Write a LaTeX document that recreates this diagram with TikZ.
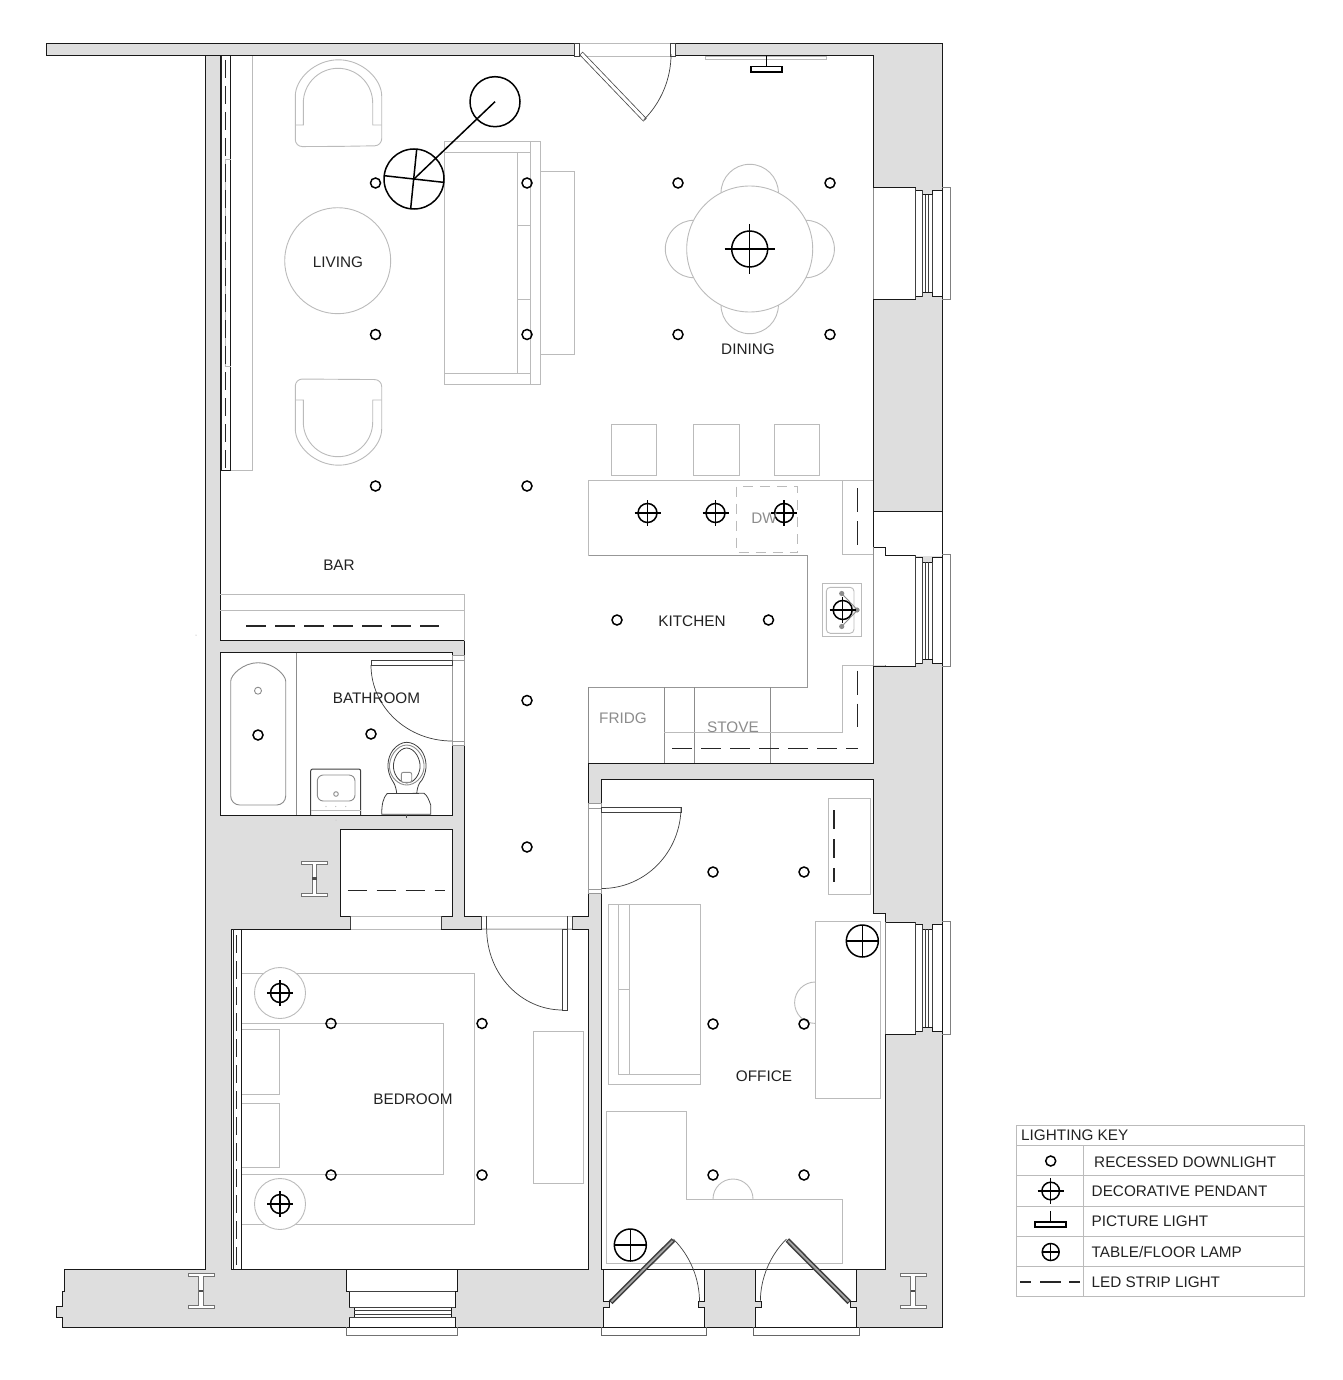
\documentclass[tikz,border=0pt]{standalone}
\usepackage{fontspec}
\setmainfont{Liberation Sans}
\definecolor{wallgray}{HTML}{DEDEDE}
\definecolor{fur}{HTML}{BBBBBB}
\definecolor{furd}{HTML}{8C8C8C}
\definecolor{ink}{HTML}{222222}
\tikzset{
  wall/.style={draw=black!90,line width=1pt,line join=miter},
  thinwall/.style={draw=black!75,line width=.7pt},
  furn/.style={draw=fur,line width=.9pt},
  furnd/.style={draw=furd,line width=.9pt},
  fixt/.style={draw=black!75,line width=.8pt},
  lit/.style={draw=black,line width=1.5pt},
  ledstrip/.style={draw=black!85,line width=1.3pt,dash pattern=on 19.6pt off 9.4pt},
  roomlabel/.style={font=\fontsize{15.3}{15.3}\selectfont,text=ink,inner sep=0pt},
  greylabel/.style={font=\fontsize{15.3}{15.3}\selectfont,text=black!45,inner sep=0pt},
  keylabel/.style={font=\fontsize{15.3}{15.3}\selectfont,text=ink,inner sep=0pt,anchor=west},
}
\newcommand{\dlight}[2]{\draw[lit] (#1,#2) circle[radius=5];}
\newcommand{\pendnt}[4]{\draw[lit] (#1,#2) circle[radius=#3];
  \draw[lit,line width=1.3pt] (#1-#3-#4,#2) -- (#1+#3+#4,#2) (#1,#2-#3-#4) -- (#1,#2+#3+#4);}
\newcommand{\lamplt}[3]{\draw[lit] (#1,#2) circle[radius=#3];
  \draw[lit,line width=1.3pt] (#1-#3,#2) -- (#1+#3,#2) (#1,#2-#3) -- (#1,#2+#3);}
\newcommand{\winright}[3]{%
  \fill[white] (#1,#2) -- (915,#2) -- (915,#2+2.5) -- (922.7,#2+2.5) -- (922.7,#2+7) -- (932,#2+7) -- (932,#2+2.5) -- (942.5,#2+2.5)
     -- (942.5,#3-2.5) -- (932,#3-2.5) -- (932,#3-7) -- (922.7,#3-7) -- (922.7,#3-2.5) -- (915,#3-2.5) -- (915,#3) -- (#1,#3) -- cycle;
  \draw[wall] (#1,#2) -- (915,#2) -- (915,#2+2.5) -- (922.7,#2+2.5) -- (922.7,#2+7) -- (932,#2+7) -- (932,#2+2.5) -- (942,#2+2.5) -- (942,#3-2.5) -- (932,#3-2.5) -- (932,#3-7) -- (922.7,#3-7) -- (922.7,#3-2.5) -- (915,#3-2.5) -- (915,#3) -- (#1,#3);
  \draw[thinwall] (915,#2) -- (915,#3) (922.7,#2+2.5) -- (922.7,#3-2.5) (925.5,#2+7) -- (925.5,#3-7) (928.5,#2+7) -- (928.5,#3-7) (932,#2+7) -- (932,#3-7);
  \draw[furn,draw=black!45] (#1,#2) -- (#1,#3);
  \draw[furn,draw=black!50] (942,#2-1) -- (950,#2-1) -- (950,#3) -- (942,#3);}
\newcommand{\doorbot}[2]{%
  \fill[white] (#1,1269) -- (#1,1301.7) -- (#1+6,1301.7) -- (#1+6,1307) -- (#1,1307) -- (#1,1327) -- (#2,1327) -- (#2,1307) -- (#2-6,1307) -- (#2-6,1301.7) -- (#2,1301.7) -- (#2,1269) -- cycle;
  \draw[wall] (#1,1269) -- (#1,1301.7) -- (#1+6,1301.7) -- (#1+6,1307) -- (#1,1307) -- (#1,1327) -- (#2,1327) -- (#2,1307) -- (#2-6,1307) -- (#2-6,1301.7) -- (#2,1301.7) -- (#2,1269) -- cycle;
  \draw[furn,draw=black!60,line width=1pt] (#1-2.2,1327) -- (#1-2.2,1335) -- (#2+2.6,1335) -- (#2+2.6,1327);}
\newcommand{\ibeam}[2]{%
  \draw[fill=white,draw=black!55,line width=.8pt]
    (#1-13,#2) -- (#1+13,#2) -- (#1+13,#2+3.4) -- (#1+2.4,#2+3.4) -- (#1+2.4,#2+32) -- (#1+13,#2+32) -- (#1+13,#2+35.4) -- (#1-13,#2+35.4) -- (#1-13,#2+32) -- (#1-2.4,#2+32) -- (#1-2.4,#2+3.4) -- (#1-13,#2+3.4) -- cycle;
  \fill[black!70] (#1-2.2,#2+16.3) rectangle (#1+2.2,#2+18.7);}
\begin{document}
\begin{tikzpicture}[x=1pt,y=-1pt]
\useasboundingbox (0,0) rectangle (1342,1380);
% building mass
\draw[wall,fill=wallgray] (46,43.5) -- (942,43.5) -- (942,1327) -- (62,1327) -- (62,1317) -- (56.7,1317) -- (56.7,1306) -- (62.7,1306) -- (62.7,1291) -- (64,1291) -- (64,1269) -- (205,1269) -- (205,56) -- (46,56) -- cycle;
\draw[wall] (205,56) -- (220,56);
% rooms
\draw[wall,fill=white] (220,56) -- (873,56) -- (873,763.3) -- (588.3,763.3) -- (588.3,916) -- (464.5,916) -- (464.5,640.7) -- (220,640.7) -- cycle;
\draw[wall,fill=white] (601.7,779.3) -- (873,779.3) -- (873,913) -- (885.7,913) -- (885.7,1269) -- (601.7,1269) -- cycle;
\draw[wall,fill=white] (231,929) -- (588.3,929) -- (588.3,1269) -- (231,1269) -- cycle;
\draw[wall,fill=white] (220,652.7) rectangle (452.3,815);
\draw[wall,fill=white] (340.7,829.3) rectangle (452.3,916);
% openings
\fill[white] (574.3,43.5) rectangle (675.3,56);
\draw[furn] (579,43.5) -- (670,43.5) (579,56) -- (670,56);
\draw[thinwall] (574.3,43.5) rectangle (579.3,56) (670,43.5) rectangle (675.3,56);
\fill[white] (351,917) rectangle (441,928.5);
\draw[furn] (350.7,916) -- (441,916) (350.7,929) -- (441,929);
\draw[thinwall] (350.7,916) -- (350.7,929) (441,916) -- (441,929);
\fill[white] (481.7,916.8) rectangle (572.3,928.4);
\draw[furn] (481.7,916) -- (572.3,916) (481.7,929) -- (572.3,929);
\draw[thinwall] (481.7,916) -- (481.7,929) (486.7,916) -- (486.7,929) (567.7,916) -- (567.7,929) (572.3,916) -- (572.3,929);
\fill[white] (452.9,655) rectangle (465,745.7);
\draw[furn,draw=black!40] (452.3,655) rectangle (464.5,745.7) (452.3,660) -- (464.5,660) (452.3,741) -- (464.5,741);
\fill[white] (588.3,803) rectangle (601.1,893);
\draw[furn,draw=black!40] (588.3,803) rectangle (601.7,893) (588.3,808) -- (601.7,808) (588.3,889) -- (601.7,889);
% windows
\fill[white] (873.6,511) rectangle (942.5,556);
\draw[wall] (942,511) -- (873,511) -- (873,547) -- (885,547) -- (885,555) (942,511) -- (942,557);
\winright{873}{188}{299}
\winright{885}{555}{666}
\winright{885.7}{922}{1034}
\fill[white] (873.6,555.8) rectangle (886,665.4);
\draw[furn,draw=black!45] (873,547) -- (873,666);
\draw[wall] (873,666) -- (885,666);
\draw[wall] (885,555) -- (915,555);
% bottom window
\fill[white] (346.7,1269) rectangle (457,1291);
\fill[white] (349,1291) rectangle (455,1307);
\fill[white] (354,1307) rectangle (451,1317);
\fill[white] (349,1317) rectangle (455,1327);
\draw[wall] (346.7,1269) -- (346.7,1291) -- (349,1291) -- (349,1307) -- (354,1307) -- (354,1317) -- (349,1317) -- (349,1327) -- (455,1327) -- (455,1317) -- (451,1317) -- (451,1307) -- (455,1307) -- (455,1291) -- (457,1291) -- (457,1269) -- cycle;
\draw[thinwall] (349,1291) -- (455,1291) (349,1307) -- (455,1307) (354,1310) -- (451,1310) (354,1314) -- (451,1314) (349,1317) -- (455,1317);
\draw[furn,draw=black!55] (346.7,1327) -- (346.7,1335) -- (457,1335) -- (457,1327);
% bottom doors
\doorbot{603.7}{704.3}
\doorbot{755.7}{856.7}
% i-beams
\ibeam{314.3}{861}
\ibeam{201}{1273.3}
\ibeam{913}{1273.3}
% living furniture
\draw[furn,draw=fur] (220,470) -- (252.7,470) -- (252.7,56);
\draw[furn,rounded corners=7pt] (338.5,146.4) -- (381.7,145.7) -- (381.7,103) arc[start angle=0,end angle=-180,radius=43.2] -- (295.3,146.6) -- (338.5,146.4);
\draw[furn] (295.3,125) -- (303.3,125) -- (303.3,103) arc[start angle=180,end angle=360,radius=34.7] -- (372.7,125) -- (381.7,125);
\draw[furn,rounded corners=7pt] (338.5,379.3) -- (381.7,379.6) -- (381.7,422) arc[start angle=0,end angle=180,radius=43.2] -- (295.3,379) -- (338.5,379.3);
\draw[furn] (295.3,400) -- (303.3,400) -- (303.3,422) arc[start angle=180,end angle=0,radius=34.7] -- (372.7,400) -- (381.7,400);
\draw[furn] (337.7,260.7) circle[radius=53];
\draw[furn] (444.3,141.7) rectangle (540.7,384) (444.3,152.3) -- (530,152.3) (444.3,373.3) -- (530,373.3) (530,141.7) -- (530,384) (517.7,152.3) -- (517.7,373.3) (517.7,225.7) -- (530,225.7) (517.7,299.3) -- (530,299.3) (540.7,171.7) rectangle (574.7,354);
\draw[furn] (705,56.8) rectangle (826.7,59.5);
% dining furniture
\draw[furn] (749.7,193) circle[radius=28.7] (749.7,305) circle[radius=28.7] (694,249) circle[radius=28.7] (805.7,249) circle[radius=28.7];
\draw[furn,fill=white] (749.7,249) circle[radius=63];
\draw[furn] (611,424) rectangle (656.7,475) (693.7,424) rectangle (739.5,475) (774.3,424) rectangle (819.5,475);
% kitchen
\draw[furn,draw=furd!90] (588.3,555.7) -- (807.7,555.7) -- (807.7,687.3) -- (588.3,687.3);
\draw[furn] (873,480) -- (588.3,480) -- (588.3,555.7) (842.7,480) -- (842.7,554.3) -- (873,554.3);
\draw[furn,dash pattern=on 10pt off 7pt] (736.7,486.7) rectangle (797.7,552.7);
\draw[furnd] (588.3,687.3) -- (588.3,763.3) (664.3,687.3) -- (664.3,763.3) (694.3,687.3) -- (694.3,763.3) (770,687.3) -- (770,763.3);
\draw[furn] (664.3,732.3) -- (842.7,732.3) -- (842.7,665.7) -- (873,665.7);
\draw[furn] (822.3,583.3) rectangle (861.3,636.7);
\draw[furn,rounded corners=4pt] (826.3,587.3) rectangle (854,633.3);
\draw[furnd] (841.7,593.5) -- (857.5,610) -- (841.7,626.5);
\fill[furd] (841.7,593.5) circle[radius=2.6] (841.7,626.5) circle[radius=2.6] (857,610) circle[radius=2.6];
% bathroom
\draw[furnd] (296,652.7) -- (296,815);
\draw[furnd,rounded corners=9pt] (258,805) -- (285.7,805) -- (285.7,690.2) arc[start angle=0,end angle=-180,radius=27.5] -- (230.7,805) -- (258,805);
\draw[furnd] (258,690.7) circle[radius=3.5];
\draw[fixt,line width=1pt,rounded corners=2pt] (310.7,815) -- (310.7,769) -- (360.7,769) -- (360.7,815);
\draw[furnd,rounded corners=6pt] (317.3,775) rectangle (355,801);
\draw[furnd] (336,794) circle[radius=2.3];
\draw[furn] (310.7,810) -- (360.7,810);
\fill[white] (331.5,810.5) rectangle (340,813);
\fill[fur] (326,806.5) circle[radius=.6] (335.7,806.5) circle[radius=.6] (345.7,806.5) circle[radius=.6];
\draw[fixt] (396.7,793.6) .. controls (396,786) and (394,783) .. (392,780) .. controls (386,770) and (387,758) .. (393,750) .. controls (397,745) and (402,742.3) .. (406.7,742.3) .. controls (411.5,742.3) and (417,745) .. (421,750) .. controls (427,758) and (428,770) .. (422,780) .. controls (419,783) and (417.5,786) .. (416.7,793.6);
\draw[furnd] (406.7,745) .. controls (397,745) and (388.5,757) .. (389.5,768) .. controls (390.5,778) and (399,785) .. (406.7,785) .. controls (414.5,785) and (423,778) .. (424,768) .. controls (425,757) and (416.5,745) .. (406.7,745);
\draw[fixt] (406.7,748) .. controls (399,748) and (392.5,759) .. (393.5,768) .. controls (394.5,776) and (400,783) .. (406.7,783) .. controls (413.5,783) and (419,776) .. (420,768) .. controls (421,759) and (414.5,748) .. (406.7,748);
\draw[furnd,rounded corners=2pt,fill=white] (401.3,772.3) rectangle (411.7,782.3);
\draw[fixt] (381.7,814.3) .. controls (381.7,805) and (383,798) .. (387,793.6) -- (424,793.3) .. controls (427,795) and (429,800) .. (430.7,805) .. controls (431,809) and (430.7,811) .. (430.7,814.3) -- cycle;
\draw[black!70,line width=.6pt] (406.7,815) -- (406.7,817.5);
\fill[fur] (336,820) circle[radius=.5];
% office
\draw[furn] (828.3,798.3) rectangle (870.3,894);
\draw[furn] (608.3,904) rectangle (700.7,1084.3) (618.3,904) -- (618.3,1074.5) -- (700.7,1074.5) (629.7,904) -- (629.7,1074.5) (618.3,989.3) -- (629.7,989.3);
\draw[furn] (815.3,921.3) rectangle (880.7,1098.3);
\draw[furn] (815.3,982) arc[start angle=270,end angle=90,radius=20.7];
\draw[furn] (606.3,1111.7) -- (686.7,1111.7) -- (686.7,1199) -- (842.7,1199) -- (842.7,1263.3) -- (606.3,1263.3) -- cycle;
\draw[furn] (713,1199) arc[start angle=180,end angle=360,radius=20];
% bedroom
\draw[furn] (241.3,973) -- (474.7,973) -- (474.7,1224.3) -- (241.3,1224.3);
\draw[furn] (241.3,1023) -- (443.3,1023) -- (443.3,1174.3) -- (241.3,1174.3);
\draw[furn] (241.3,1029.3) -- (279.7,1029.3) -- (279.7,1094.3) -- (241.3,1094.3);
\draw[furn] (241.3,1103) -- (279.7,1103) -- (279.7,1167.3) -- (241.3,1167.3);
\draw[furn,fill=white] (280,993) circle[radius=25.5];
\draw[furn,fill=white] (280,1204) circle[radius=25.5];
\draw[furn] (533.3,1031) rectangle (583.7,1183);
% door leaves
\draw[line width=4.6pt,black!70] (581,53.3) -- (645,120);
\draw[line width=3pt,white] (581.5,53.8) -- (644.5,119.5);
\draw[thinwall] (643.8,119.8) arc[start angle=45,end angle=0,radius=93];
\draw[thinwall,fill=white] (371,660) rectangle (452.3,665.3);
\draw[thinwall] (371,665) arc[start angle=180,end angle=90,x radius=81,y radius=76];
\draw[thinwall,fill=white] (601.7,807) rectangle (681,812);
\draw[thinwall] (681,807) arc[start angle=0,end angle=90,x radius=79.3,y radius=81.5];
\draw[thinwall,fill=white] (562.7,929) rectangle (567.5,1010);
\draw[thinwall] (486.7,929) arc[start angle=180,end angle=90,x radius=76,y radius=81];
\draw[line width=5pt,black!75] (610.7,1302.3) -- (673.3,1240);
\draw[line width=1.8pt,black!35] (611.5,1301.5) -- (672.5,1240.8);
\draw[thinwall] (673.5,1239.2) arc[start angle=-45,end angle=0,radius=88.8];
\draw[line width=5pt,black!75] (849.3,1302.3) -- (787.3,1240);
\draw[line width=1.8pt,black!35] (848.5,1301.5) -- (788.1,1240.8);
\draw[thinwall] (786.4,1239.1) arc[start angle=225,end angle=180,radius=89];
% LED strips
\draw[wall,fill=white] (220,56) rectangle (230.7,470);
\draw[black!85,line width=1pt] (221,56) -- (221,470);
\draw[furn] (225.7,159) -- (230.7,159) (225.7,159) -- (225.7,366) -- (230.7,366);
\draw[ledstrip,dash pattern=on 18pt off 8pt] (225.3,60) -- (225.3,468);
\draw[wall,fill=white] (231.5,929) rectangle (241.3,1269);
\draw[black!85,line width=1pt] (233,929) -- (233,1269);
\draw[ledstrip,dash pattern=on 18pt off 8pt] (236.5,935) -- (236.5,1267);
\draw[furn] (220,594.3) -- (464.5,594.3) (220,610) -- (464.5,610) (464.5,594.3) -- (464.5,640.7);
\draw[ledstrip] (246,626) -- (439,626);
\draw[ledstrip] (347.7,890.3) -- (445,890.3);
\draw[ledstrip] (672,748.3) -- (858,748.3);
\draw[ledstrip,dash pattern=on 24pt off 9pt] (857.5,488) -- (857.5,547);
\draw[ledstrip,dash pattern=on 24pt off 9pt] (857.5,670.7) -- (857.5,727);
\draw[ledstrip,dash pattern=on 19pt off 10pt] (834,810) -- (834,882);
% lights
\foreach \px/\py in {375.5/183,527/183,678/183,830/183,375.5/334.5,527/334.5,678/334.5,830/334.5,375.5/486,527/486,617/620,768.5/620,527/700.5,527/847,258/735,371/734,713/872,804/872,713/1024,804/1024,713/1175,804/1175,331/1023.5,482/1023.5,331/1175,482/1175}{\dlight{\px}{\py}}
\pendnt{749.7}{249}{18}{7.2}
\pendnt{647.5}{513}{9.5}{3.5}
\pendnt{715.5}{513}{9.5}{3.5}
\pendnt{784}{513}{9.5}{3.5}
\pendnt{842.7}{610}{9.5}{3.5}
\pendnt{280}{993}{9.5}{3.5}
\pendnt{280}{1204}{9.5}{3.5}
\lamplt{862.3}{941}{16}
\lamplt{630.3}{1245}{16}
% picture light
\draw[lit] (766.3,56) -- (766.3,66.5);
\draw[lit,fill=white] (751,66.5) rectangle (782,72);
% floor lamp
\draw[lit] (414,179) circle[radius=30];
\draw[lit] (416.7,149.3) -- (410.7,208.3) (384.3,175.7) -- (443.3,182.3);
\draw[lit] (414,179) -- (495,101.7);
\draw[lit] (495,101.7) circle[radius=25];
% labels
\node[roomlabel] (tliving) at (338,262) {LIVING};
\node[roomlabel] (tdining) at (748,349) {DINING};
\node[roomlabel] (tbar) at (339,565) {BAR};
\node[roomlabel] (tkitchen) at (692,621) {KITCHEN};
\node[roomlabel] (tbath) at (376.5,698) {BATHROOM};
\node[roomlabel] (toffice) at (764,1076) {OFFICE};
\node[roomlabel] (tbed) at (413,1099) {BEDROOM};
\node[greylabel] (tdw) at (764,518) {DW};
\node[greylabel] (tfridge) at (623,718) {FRIDG};
\node[greylabel] (tstove) at (733,727) {STOVE};
% legend
\draw[furn] (1016,1125) rectangle (1304.3,1296.7);
\draw[furn] (1016,1145) -- (1304.3,1145) (1016,1175.3) -- (1304.3,1175.3) (1016,1206.7) -- (1304.3,1206.7) (1016,1236.3) -- (1304.3,1236.3) (1016,1266.3) -- (1304.3,1266.3) (1083.3,1145) -- (1083.3,1296.7);
\node[keylabel] (kh) at (1021,1135) {LIGHTING KEY};
\node[keylabel] (k1) at (1094,1162) {RECESSED DOWNLIGHT};
\node[keylabel] (k2) at (1091.5,1191.5) {DECORATIVE PENDANT};
\node[keylabel] (k3) at (1091.5,1221.5) {PICTURE LIGHT};
\node[keylabel] (k4) at (1091.5,1252.5) {TABLE/FLOOR LAMP};
\node[keylabel] (k5) at (1091.5,1282) {LED STRIP LIGHT};
\dlight{1050.7}{1161}
\pendnt{1050.7}{1191}{8.8}{4.2}
\draw[lit] (1050.7,1211) -- (1050.7,1222);
\draw[lit] (1035,1222) rectangle (1066,1227);
\lamplt{1050.7}{1252}{8.5}
\draw[ledstrip,dash pattern=on 11pt off 9pt on 21pt off 8pt on 11pt off 1pt] (1020,1282) -- (1080,1282);
\fill[black!40] (196,635) circle[radius=.5];
\end{tikzpicture}
\end{document}
